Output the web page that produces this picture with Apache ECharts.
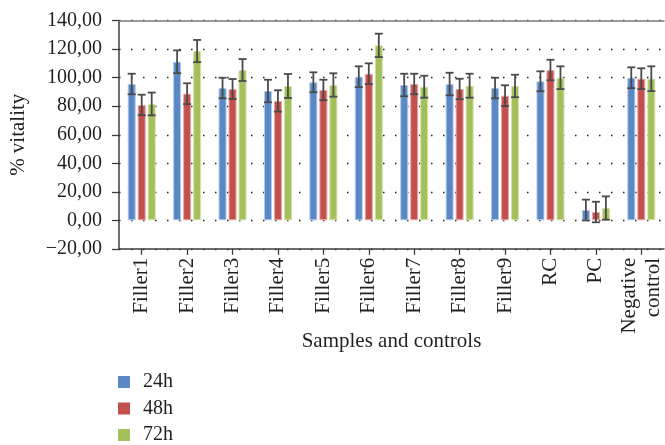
<!DOCTYPE html>
<html>
<head>
<meta charset="utf-8">
<script src="https://cdn.jsdelivr.net/npm/echarts@6/dist/echarts.min.js"></script>
<style>
html,body{margin:0;padding:0;background:#fff;}
#chart{width:665px;height:445px;}
</style>
</head>
<body>
<div id="chart"></div>
<script>
const categories = ['Filler1','Filler2','Filler3','Filler4','Filler5','Filler6','Filler7','Filler8','Filler9','RC','PC','Negative\ncontrol'];
const seriesNames = ['24h','48h','72h'];
const values24 = [95.6, 111.2, 92.8, 90.7, 96.8, 100.7, 94.9, 95.6, 92.8, 97.5, 7.2, 100.0];
const values48 = [80.9, 88.8, 92.1, 83.7, 91.4, 102.8, 95.6, 92.1, 87.4, 105.4, 5.8, 99.3];
const values72 = [81.6, 118.7, 105.4, 94.2, 94.9, 122.7, 93.7, 94.4, 94.2, 100.0, 8.6, 99.3];
const errors24 = [7.2, 8.0, 7.2, 7.9, 7.0, 7.3, 7.9, 7.9, 7.2, 7.0, 7.3, 7.3];
const errors48 = [7.2, 7.3, 7.0, 7.5, 7.2, 7.3, 7.2, 7.2, 7.3, 7.2, 7.2, 7.3];
const errors72 = [8.0, 7.8, 7.7, 8.4, 8.2, 8.2, 7.7, 8.4, 7.9, 8.0, 8.2, 8.7];
const yTicks = {min: -20, max: 140, interval: 20};

const allValues = [values24, values48, values72];
const allErrors = [errors24, errors48, errors72];
const colors = ['#5a88c5', '#c4504e', '#a3c05a'];
const borders = ['#b3cbea', '#e6aaa8', '#d3e3ad'];
const FONT = '"Liberation Serif", "DejaVu Serif", serif';
const BAR_W = 8, BAR_GAP = 2;

const chart = echarts.init(document.getElementById('chart'), null, {renderer: 'canvas'});

const barSeries = seriesNames.map((name, s) => ({
  name: name,
  type: 'bar',
  data: allValues[s],
  barWidth: BAR_W,
  barGap: '25%',
  barCategoryGap: '38%',
  itemStyle: {color: colors[s], borderColor: borders[s], borderWidth: 1},
  z: 2
}));

const errSeries = seriesNames.map((name, s) => ({
  type: 'custom',
  name: name + ' error',
  data: allValues[s].map((v, i) => [i, v, allErrors[s][i]]),
  encode: {x: 0, y: 1},
  z: 5,
  silent: true,
  renderItem: function (params, api) {
    const i = api.value(0), v = api.value(1), e = api.value(2);
    const hi = api.coord([i, v + e]);
    const lo = api.coord([i, v - e]);
    const x = hi[0] + (s - 1) * (BAR_W + BAR_GAP);
    const cap = 4;
    const st = {stroke: '#4a4a4a', lineWidth: 1.8};
    return {
      type: 'group',
      children: [
        {type: 'line', shape: {x1: x, y1: hi[1], x2: x, y2: lo[1]}, style: st},
        {type: 'line', shape: {x1: x - cap, y1: hi[1], x2: x + cap, y2: hi[1]}, style: st},
        {type: 'line', shape: {x1: x - cap, y1: lo[1], x2: x + cap, y2: lo[1]}, style: st}
      ]
    };
  }
}));

function fmt(v) {
  const s = Math.abs(v).toFixed(2).replace('.', ',');
  return (v < 0 ? '\u2212' : '') + s;
}

chart.setOption({
  backgroundColor: '#ffffff',
  animation: false,
  textStyle: {fontFamily: FONT, color: '#231f20'},
  grid: {left: 118, top: 20.7, right: -5, bottom: 196.2, containLabel: false},
  legend: {
    data: seriesNames,
    orient: 'vertical',
    left: 118,
    top: 372,
    height: 200,
    padding: 0,
    itemWidth: 12,
    itemHeight: 12,
    itemGap: 6.5,
    icon: 'rect',
    itemStyle: {borderWidth: 0},
    textStyle: {fontFamily: FONT, fontSize: 20, color: '#231f20', lineHeight: 20, padding: [0, 0, 0, 8]}
  },
  xAxis: [{
    type: 'category',
    data: categories,
    position: 'bottom',
    name: 'Samples and controls',
    nameLocation: 'middle',
    nameGap: 82,
    nameMoveOverlap: false,
    nameTextStyle: {fontFamily: FONT, fontSize: 21, color: '#231f20'},
    axisLine: {onZero: false, lineStyle: {color: '#3c3c3c', width: 1.5}},
    axisTick: {show: true, alignWithLabel: true, length: 6, lineStyle: {color: '#3c3c3c', width: 1.3}},
    axisLabel: {rotate: 90, margin: 9, fontFamily: FONT, fontSize: 21, color: '#231f20', lineHeight: 24, interval: 0},
    splitLine: {show: false}
  }, {
    type: 'category',
    data: categories,
    position: 'top',
    axisLine: {show: true, onZero: false, lineStyle: {color: '#7a7a7a', width: 1.5}},
    axisTick: {show: false},
    axisLabel: {show: false},
    splitLine: {show: false}
  }],
  yAxis: {
    type: 'value',
    min: yTicks.min,
    max: yTicks.max,
    interval: yTicks.interval,
    name: '% vitality',
    nameLocation: 'middle',
    nameGap: 90,
    nameMoveOverlap: false,
    nameTextStyle: {fontFamily: FONT, fontSize: 21, color: '#231f20'},
    axisLine: {show: true, lineStyle: {color: '#3c3c3c', width: 1.5}},
    axisTick: {show: true, length: 7, lineStyle: {color: '#3c3c3c', width: 1.3}},
    axisLabel: {formatter: fmt, margin: 17, fontFamily: FONT, fontSize: 20, color: '#231f20'},
    splitLine: {show: true, lineStyle: {type: [1.5, 10.5], color: '#222222', width: 1.3}}
  },
  series: barSeries.concat(errSeries)
});
</script>
</body>
</html>
